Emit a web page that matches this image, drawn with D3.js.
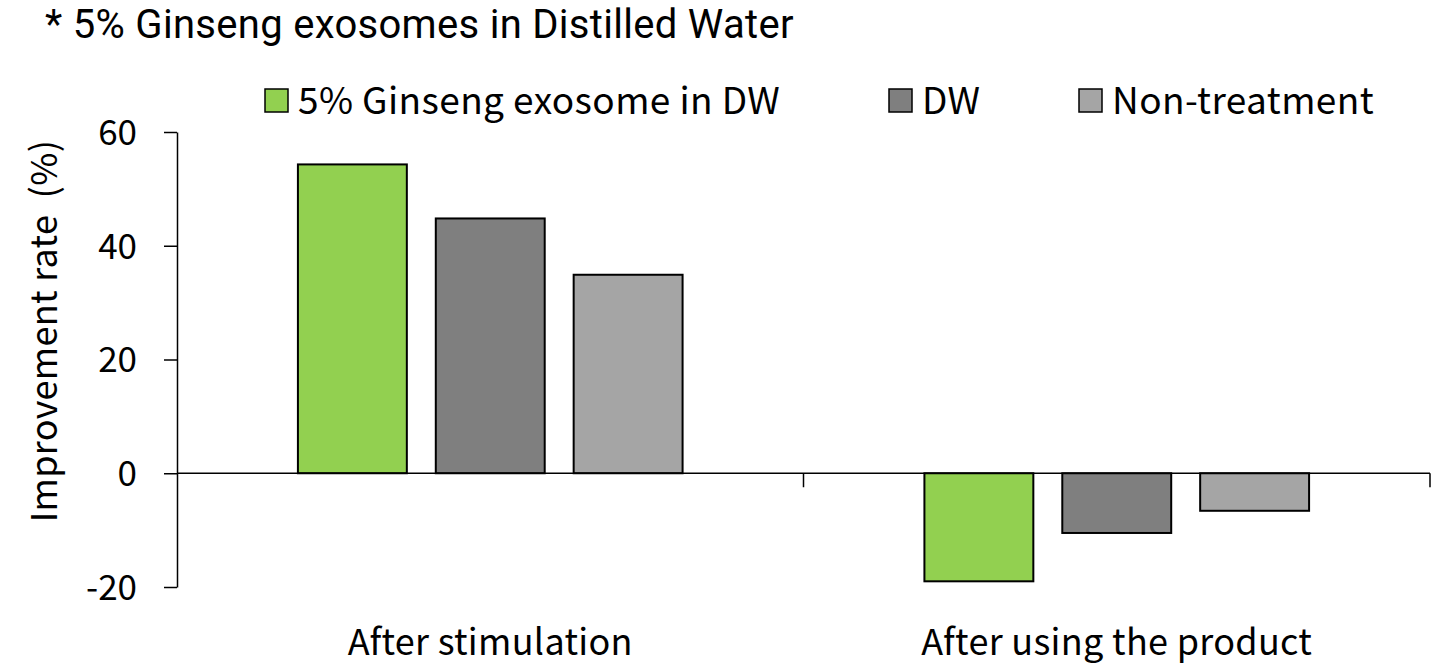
<!DOCTYPE html>
<html>
<head>
<meta charset="utf-8">
<script src="https://cdn.jsdelivr.net/npm/d3@7"></script>
<style>
  body { margin: 0; background: #fff; }
  svg text { fill: #000; }
</style>
</head>
<body>
<div id="chart"></div>
<script>
const WIDTH = 1437;
const HEIGHT = 664;

const categories = ["After stimulation", "After using the product"];
const seriesNames = ["5% Ginseng exosome in DW", "DW", "Non-treatment"];
const seriesColors = ["#92D050", "#7F7F7F", "#A5A5A5"];
const ginsengValues = [54.3, -19.0];
const dwValues = [44.8, -10.5];
const nonTreatValues = [34.9, -6.6];
const yTicks = [-20, 0, 20, 40, 60];

const LABEL_FONT = "'Noto Sans CJK KR', 'Noto Sans', sans-serif";

const series = [ginsengValues, dwValues, nonTreatValues];

const svg = d3.select("#chart")
    .append("svg")
    .attr("width", WIDTH)
    .attr("height", HEIGHT);

// title
svg.append("text")
    .attr("x", 45)
    .attr("y", 38)
    .attr("font-family", "Roboto, sans-serif")
    .attr("font-size", 40)
    .attr("letter-spacing", 0.3)
    .text("* 5% Ginseng exosomes in Distilled Water");

const x = d3.scaleBand()
    .domain(categories)
    .range([177, 1430]);

const xInner = d3.scaleBand()
    .domain(seriesNames)
    .range([0, x.bandwidth()])
    .paddingInner(0.21)
    .paddingOuter(0.877);

const y = d3.scaleLinear()
    .domain([-20, 60])
    .range([587, 132]);

// y axis
const yAxis = d3.axisLeft(y)
    .tickValues(yTicks)
    .tickFormat(d => String(d))
    .tickSizeInner(13)
    .tickSizeOuter(0)
    .tickPadding(27);

const gy = svg.append("g")
    .attr("transform", "translate(177,0)")
    .call(yAxis);
gy.selectAll("path, line").attr("stroke", "#000").attr("stroke-width", 1.5);
gy.selectAll("text")
    .attr("font-family", LABEL_FONT)
    .attr("font-size", 35)
    .attr("dy", "0.35em");

// bars
const groups = svg.append("g").attr("class", "bars")
    .selectAll("g")
    .data(series)
    .join("g")
    .attr("fill", (d, i) => seriesColors[i]);

groups.selectAll("rect")
    .data((vals, si) => vals.map((v, ci) => ({v, ci, si})))
    .join("rect")
    .attr("x", d => x(categories[d.ci]) + xInner(seriesNames[d.si]))
    .attr("width", xInner.bandwidth())
    .attr("y", d => y(Math.max(0, d.v)))
    .attr("height", d => Math.abs(y(d.v) - y(0)))
    .attr("stroke", "#000")
    .attr("stroke-width", 2);

// x axis at zero
const gx = svg.append("g").attr("class", "x-axis");
gx.append("line")
    .attr("x1", x.range()[0])
    .attr("x2", x.range()[1])
    .attr("y1", y(0))
    .attr("y2", y(0))
    .attr("stroke", "#000")
    .attr("stroke-width", 1.5);
gx.selectAll("line.tick")
    .data(categories)
    .join("line")
    .attr("class", "tick")
    .attr("x1", d => x(d) + x.bandwidth())
    .attr("x2", d => x(d) + x.bandwidth())
    .attr("y1", y(0))
    .attr("y2", y(0) + 14)
    .attr("stroke", "#000")
    .attr("stroke-width", 1.5);
gx.selectAll("text")
    .data(categories)
    .join("text")
    .attr("x", d => x(d) + x.bandwidth() / 2)
    .attr("y", 655)
    .attr("text-anchor", "middle")
    .attr("font-family", LABEL_FONT)
    .attr("font-size", 36)
    .attr("letter-spacing", 0.3)
    .text(d => d);

// y label
svg.append("text")
    .attr("transform", "translate(57,331) rotate(-90)")
    .attr("text-anchor", "middle")
    .attr("font-family", LABEL_FONT)
    .attr("font-size", 36)
    .attr("letter-spacing", 0.3)
    .style("white-space", "pre")
    .text("Improvement rate  (%)");

// legend
const legendX = [265, 889, 1079];
const legend = svg.append("g").attr("class", "legend")
    .selectAll("g")
    .data(seriesNames)
    .join("g")
    .attr("transform", (d, i) => "translate(" + legendX[i] + ",89)");
legend.append("rect")
    .attr("width", 23)
    .attr("height", 23)
    .attr("fill", (d, i) => seriesColors[i])
    .attr("stroke", "#000")
    .attr("stroke-width", 1.5);
legend.append("text")
    .attr("x", 33)
    .attr("y", 25)
    .attr("font-family", LABEL_FONT)
    .attr("font-size", 37)
    .attr("letter-spacing", 0.4)
    .text(d => d);
</script>
</body>
</html>
